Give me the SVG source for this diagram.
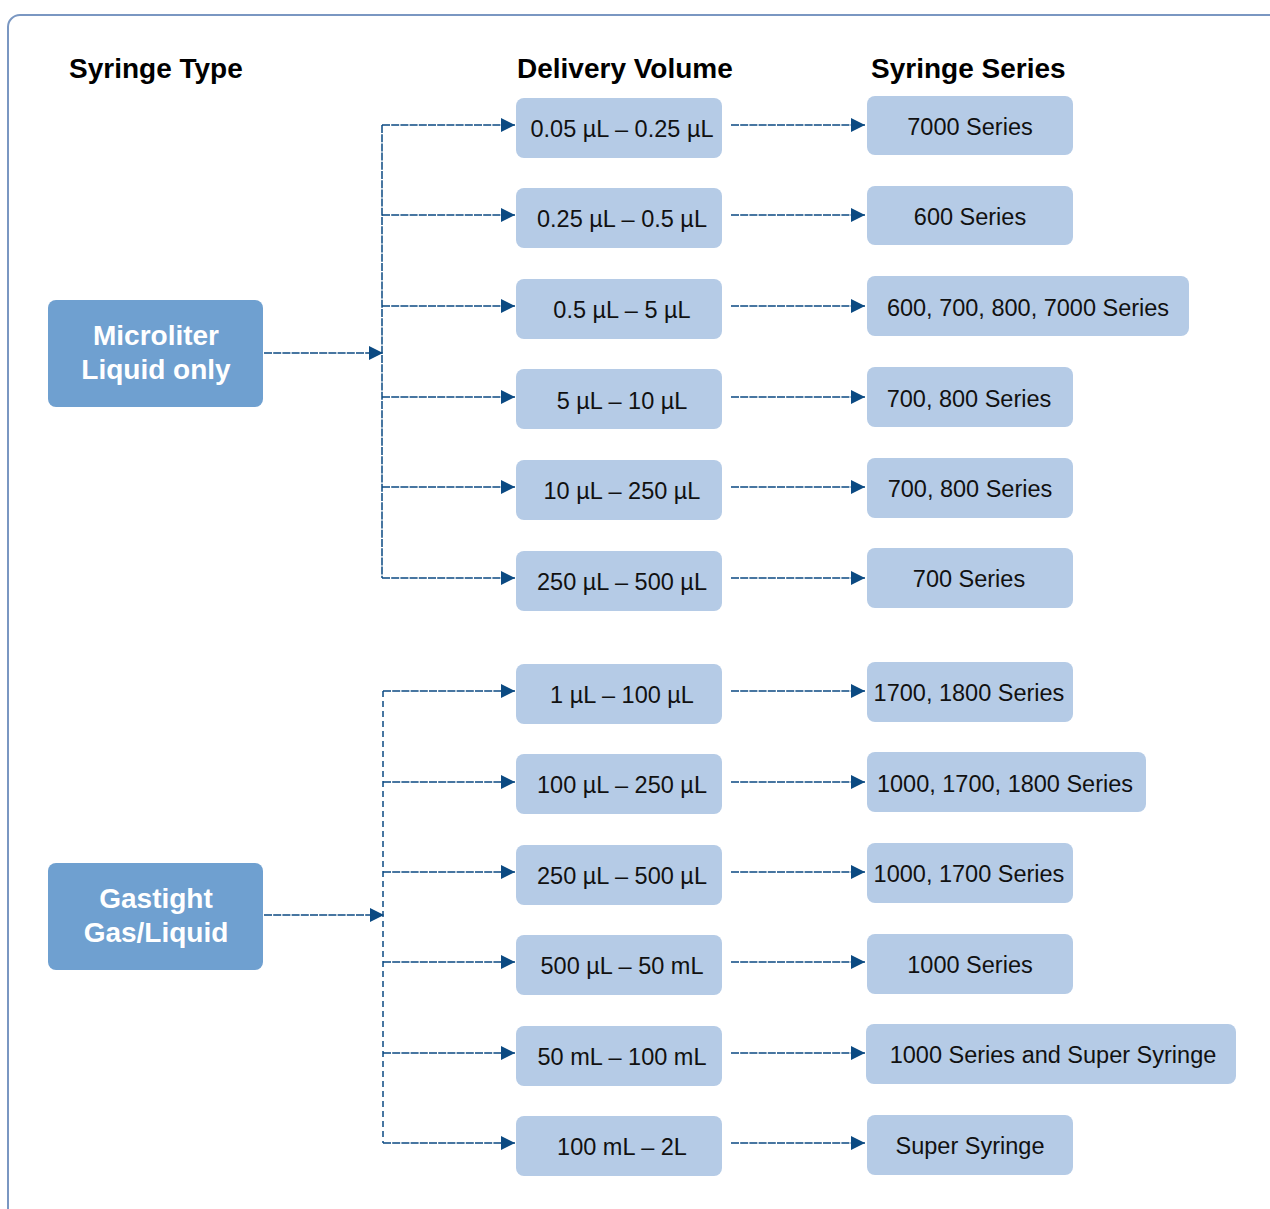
<svg xmlns="http://www.w3.org/2000/svg" width="1270" height="1209" viewBox="0 0 1270 1209">
<style>
.hdr{font-family:"Liberation Sans",Arial,sans-serif;font-weight:bold;font-size:28px;fill:#000}
.typ rect{fill:#6fa0d0}
.typ text{font-family:"Liberation Sans",Arial,sans-serif;font-weight:bold;font-size:28px;fill:#fff;text-anchor:middle}
.box rect{fill:#b5cbe6}
.box text{font-family:"Liberation Sans",Arial,sans-serif;font-size:23.5px;fill:#111;text-anchor:middle}
.c{fill:none;stroke:#0b4a82;stroke-width:1.5;stroke-dasharray:8 1.2}
.v2{fill:none;stroke:#0b4a82;stroke-width:1.5;stroke-dasharray:6 4}
</style>
<defs>
<marker id="ah" markerWidth="16" markerHeight="16" refX="14" refY="7" orient="auto" markerUnits="userSpaceOnUse">
<path d="M0,0 L14,7 L0,14 Z" fill="#0b4a82"/>
</marker>
</defs>
<rect x="8" y="15" width="1300" height="1250" rx="12" fill="#fff" stroke="#7a97c2" stroke-width="2"/>
<text class="hdr" x="69" y="78">Syringe Type</text>
<text class="hdr" x="517" y="78">Delivery Volume</text>
<text class="hdr" x="871" y="78">Syringe Series</text>

<g id="connectors">
<path class="c" d="M264,353 H383" marker-end="url(#ah)"/>
<path class="c" d="M382,125 V578"/>
<path class="c" d="M382,125 H515" marker-end="url(#ah)"/>
<path class="c" d="M382,215 H515" marker-end="url(#ah)"/>
<path class="c" d="M382,306 H515" marker-end="url(#ah)"/>
<path class="c" d="M382,397 H515" marker-end="url(#ah)"/>
<path class="c" d="M382,487 H515" marker-end="url(#ah)"/>
<path class="c" d="M382,578 H515" marker-end="url(#ah)"/>
<path class="c" d="M731,125 H865" marker-end="url(#ah)"/>
<path class="c" d="M731,215 H865" marker-end="url(#ah)"/>
<path class="c" d="M731,306 H865" marker-end="url(#ah)"/>
<path class="c" d="M731,397 H865" marker-end="url(#ah)"/>
<path class="c" d="M731,487 H865" marker-end="url(#ah)"/>
<path class="c" d="M731,578 H865" marker-end="url(#ah)"/>
<path class="c" d="M264,915 H384" marker-end="url(#ah)"/>
<path class="v2" d="M383,691 V1143"/>
<path class="c" d="M383,691 H515" marker-end="url(#ah)"/>
<path class="c" d="M383,782 H515" marker-end="url(#ah)"/>
<path class="c" d="M383,872 H515" marker-end="url(#ah)"/>
<path class="c" d="M383,962 H515" marker-end="url(#ah)"/>
<path class="c" d="M383,1053 H515" marker-end="url(#ah)"/>
<path class="c" d="M383,1143 H515" marker-end="url(#ah)"/>
<path class="c" d="M731,691 H865" marker-end="url(#ah)"/>
<path class="c" d="M731,782 H865" marker-end="url(#ah)"/>
<path class="c" d="M731,872 H865" marker-end="url(#ah)"/>
<path class="c" d="M731,962 H865" marker-end="url(#ah)"/>
<path class="c" d="M731,1053 H865" marker-end="url(#ah)"/>
<path class="c" d="M731,1143 H865" marker-end="url(#ah)"/>
</g>

<g id="type-microliter" class="typ"><rect x="48" y="300" width="215" height="107" rx="8"/><text x="156" y="345">Microliter</text><text x="156" y="379">Liquid only</text></g>
<g id="type-gastight" class="typ"><rect x="48" y="863" width="215" height="107" rx="8"/><text x="156" y="908">Gastight</text><text x="156" y="942">Gas/Liquid</text></g>

<g id="vol-1" class="box"><rect x="516" y="98" width="206" height="60" rx="8"/><text x="622" y="137">0.05 µL – 0.25 µL</text></g>
<g id="vol-2" class="box"><rect x="516" y="188" width="206" height="60" rx="8"/><text x="622" y="227">0.25 µL – 0.5 µL</text></g>
<g id="vol-3" class="box"><rect x="516" y="279" width="206" height="60" rx="8"/><text x="622" y="318">0.5 µL – 5 µL</text></g>
<g id="vol-4" class="box"><rect x="516" y="369" width="206" height="60" rx="8"/><text x="622" y="409">5 µL – 10 µL</text></g>
<g id="vol-5" class="box"><rect x="516" y="460" width="206" height="60" rx="8"/><text x="622" y="499">10 µL – 250 µL</text></g>
<g id="vol-6" class="box"><rect x="516" y="551" width="206" height="60" rx="8"/><text x="622" y="590">250 µL – 500 µL</text></g>
<g id="vol-7" class="box"><rect x="516" y="664" width="206" height="60" rx="8"/><text x="622" y="703">1 µL – 100 µL</text></g>
<g id="vol-8" class="box"><rect x="516" y="754" width="206" height="60" rx="8"/><text x="622" y="793">100 µL – 250 µL</text></g>
<g id="vol-9" class="box"><rect x="516" y="845" width="206" height="60" rx="8"/><text x="622" y="884">250 µL – 500 µL</text></g>
<g id="vol-10" class="box"><rect x="516" y="935" width="206" height="60" rx="8"/><text x="622" y="974">500 µL – 50 mL</text></g>
<g id="vol-11" class="box"><rect x="516" y="1026" width="206" height="60" rx="8"/><text x="622" y="1065">50 mL – 100 mL</text></g>
<g id="vol-12" class="box"><rect x="516" y="1116" width="206" height="60" rx="8"/><text x="622" y="1155">100 mL – 2L</text></g>

<g id="ser-1" class="box"><rect x="867" y="96" width="206" height="59" rx="8"/><text x="970" y="135">7000 Series</text></g>
<g id="ser-2" class="box"><rect x="867" y="186" width="206" height="59" rx="8"/><text x="970" y="225">600 Series</text></g>
<g id="ser-3" class="box"><rect x="867" y="276" width="322" height="60" rx="8"/><text x="1028" y="316">600, 700, 800, 7000 Series</text></g>
<g id="ser-4" class="box"><rect x="867" y="367" width="206" height="60" rx="8"/><text x="969" y="407">700, 800 Series</text></g>
<g id="ser-5" class="box"><rect x="867" y="458" width="206" height="60" rx="8"/><text x="970" y="497">700, 800 Series</text></g>
<g id="ser-6" class="box"><rect x="867" y="548" width="206" height="60" rx="8"/><text x="969" y="587">700 Series</text></g>
<g id="ser-7" class="box"><rect x="867" y="662" width="206" height="60" rx="8"/><text x="969" y="701">1700, 1800 Series</text></g>
<g id="ser-8" class="box"><rect x="867" y="752" width="279" height="60" rx="8"/><text x="1005" y="792">1000, 1700, 1800 Series</text></g>
<g id="ser-9" class="box"><rect x="867" y="843" width="206" height="60" rx="8"/><text x="969" y="882">1000, 1700 Series</text></g>
<g id="ser-10" class="box"><rect x="867" y="934" width="206" height="60" rx="8"/><text x="970" y="973">1000 Series</text></g>
<g id="ser-11" class="box"><rect x="866" y="1024" width="370" height="60" rx="8"/><text x="1053" y="1063">1000 Series and Super Syringe</text></g>
<g id="ser-12" class="box"><rect x="867" y="1115" width="206" height="60" rx="8"/><text x="970" y="1154">Super Syringe</text></g>
</svg>
